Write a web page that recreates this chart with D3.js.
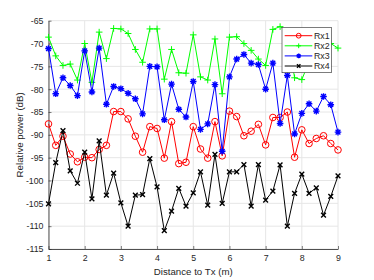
<!DOCTYPE html>
<html>
<head>
<meta charset="utf-8">
<script src="https://cdn.jsdelivr.net/npm/d3@7"></script>
<style>
  body { margin: 0; background: #fff; }
  text { font-family: "Liberation Sans", Arial, sans-serif; }
</style>
</head>
<body>
<div id="dataviz"></div>
<script>
// distances (m)
var distance = [1.0, 1.2, 1.4, 1.6, 1.8, 2.0, 2.2, 2.4, 2.6, 2.8, 3.0, 3.2, 3.4, 3.6, 3.8, 4.0, 4.2, 4.4, 4.6, 4.8,
                5.0, 5.2, 5.4, 5.6, 5.8, 6.0, 6.2, 6.4, 6.6, 6.8, 7.0, 7.2, 7.4, 7.6, 7.8, 8.0, 8.2, 8.4, 8.6, 8.8, 9.0];

var rx1 = [-87.6, -92.3, -90.3, -94.2, -95.9, -94.9, -95.0, -93.2, -92.3, -84.9, -84.9, -86.5, -90.3, -93.8, -88.2, -88.6, -95.1, -87.1, -96.3, -96.0,
           -88.2, -93.1, -95.1, -87.1, -94.6, -84.8, -86.0, -90.2, -89.2, -87.7, -92.2, -86.2, -86.2, -85.0, -94.9, -88.9, -91.9, -90.8, -90.2, -91.9, -93.3];
var rx2 = [-68.6, -72.7, -74.8, -74.5, -78.0, -70.0, -78.5, -67.5, -73.3, -66.7, -66.8, -67.8, -71.3, -74.1, -66.8, -66.8, -77.8, -71.3, -76.4, -76.5,
           -68.1, -77.3, -78.0, -69.0, -81.0, -68.6, -68.5, -70.0, -71.5, -73.4, -74.8, -66.9, -66.3, -67.5, -77.5, -77.9, -74.0, -72.0, -70.0, -70.0, -71.0];
var rx3 = [-71.1, -81.0, -77.5, -79.2, -81.4, -71.6, -80.6, -71.0, -83.3, -79.4, -79.9, -80.9, -82.1, -85.4, -75.0, -75.1, -86.7, -78.9, -84.4, -86.1,
           -78.3, -88.8, -87.6, -79.0, -93.6, -77.3, -73.4, -72.4, -74.3, -74.6, -80.0, -74.3, -87.5, -77.0, -89.8, -85.3, -83.2, -84.8, -81.6, -83.4, -89.4];
var rx4 = [-105.1, -96.1, -89.1, -97.9, -100.6, -93.8, -104.0, -91.3, -103.2, -98.4, -104.9, -110.0, -103.2, -103.1, -95.2, -101.4, -111.0, -106.7, -101.7, -105.6,
           -102.7, -98.1, -105.4, -94.3, -105.0, -98.1, -98.1, -96.5, -105.6, -96.5, -104.3, -102.3, -96.6, -110.0, -102.8, -98.6, -102.8, -101.6, -107.6, -103.5, -99.0];

var seriesNames = ["Rx1", "Rx2", "Rx3", "Rx4"];
var xTicks = [1, 2, 3, 4, 5, 6, 7, 8, 9];
var yTicks = [-65, -70, -75, -80, -85, -90, -95, -100, -105, -110, -115];

var W = 374, H = 280;
var margin = {top: 20.7, right: 36, bottom: 31, left: 48.5};
var width = W - margin.left - margin.right;
var height = H - margin.top - margin.bottom;
var axisColor = "#262626";

var series = [
  {name: seriesNames[0], values: rx1, color: "#ff0000", marker: "o"},
  {name: seriesNames[1], values: rx2, color: "#00ff00", marker: "+"},
  {name: seriesNames[2], values: rx3, color: "#0000ff", marker: "*"},
  {name: seriesNames[3], values: rx4, color: "#000000", marker: "x"}
];

var svg = d3.select("#dataviz")
  .append("svg")
  .attr("width", W)
  .attr("height", H)
  .append("g")
  .attr("transform", "translate(" + margin.left + "," + margin.top + ")");

var xScale = d3.scaleLinear().domain([1, 9]).range([0, width]);
var yScale = d3.scaleLinear().domain([-115, -65]).range([height, 0]);

// grid
svg.append("g")
  .selectAll("line.vgrid")
  .data(xTicks)
  .enter()
  .append("line")
  .attr("x1", (d) => xScale(d))
  .attr("x2", (d) => xScale(d))
  .attr("y1", 0)
  .attr("y2", height)
  .style("stroke", "#e6e6e6")
  .style("stroke-width", 1);

svg.append("g")
  .selectAll("line.hgrid")
  .data(yTicks)
  .enter()
  .append("line")
  .attr("x1", 0)
  .attr("x2", width)
  .attr("y1", (d) => yScale(d))
  .attr("y2", (d) => yScale(d))
  .style("stroke", "#e6e6e6")
  .style("stroke-width", 1);

// axes (ticks inside, like matlab)
var xAxis = d3.axisBottom(xScale)
  .tickValues(xTicks)
  .tickFormat(d3.format("d"))
  .tickSizeInner(-3)
  .tickSizeOuter(0)
  .tickPadding(6);

var yAxis = d3.axisLeft(yScale)
  .tickValues(yTicks)
  .tickFormat((d) => d)
  .tickSizeInner(-3)
  .tickSizeOuter(0)
  .tickPadding(5);

var gx = svg.append("g")
  .attr("transform", "translate(0," + height + ")")
  .call(xAxis);
var gy = svg.append("g")
  .call(yAxis);

[gx, gy].forEach(function (g) {
  g.selectAll("path").style("stroke", axisColor).style("stroke-width", 0.8);
  g.selectAll("line").style("stroke", axisColor).style("stroke-width", 0.6);
  g.selectAll("text")
    .style("fill", axisColor)
    .style("font-size", "8.8px")
    .style("font-family", "'Liberation Sans', Arial, sans-serif");
});

// marker shapes, k = size
function markerPath(type, k) {
  var a = k * 0.72;
  if (type == "+") return "M" + (-k) + ",0H" + k + "M0," + (-k) + "V" + k;
  if (type == "x") return "M" + (-a) + "," + (-a) + "L" + a + "," + a + "M" + (-a) + "," + a + "L" + a + "," + (-a);
  return "M" + (-k) + ",0H" + k + "M0," + (-k) + "V" + k +
         "M" + (-a) + "," + (-a) + "L" + a + "," + a + "M" + (-a) + "," + a + "L" + a + "," + (-a);
}

function drawMarker(sel, s, k) {
  if (s.marker == "o") {
    sel.append("circle")
      .attr("r", k)
      .style("fill", "none")
      .style("stroke", s.color)
      .style("stroke-width", 1);
  } else {
    sel.append("path")
      .attr("d", markerPath(s.marker, k))
      .style("fill", "none")
      .style("stroke", s.color)
      .style("stroke-width", s.marker == "+" ? 1 : 1.4);
  }
}

var line = d3.line()
  .x((d) => xScale(d[0]))
  .y((d) => yScale(d[1]));

series.forEach(function (s) {
  var pts = distance.map((d, i) => [d, s.values[i]]);
  svg.append("path")
    .datum(pts)
    .attr("d", line)
    .style("fill", "none")
    .style("stroke", s.color)
    .style("stroke-width", 1);

  svg.append("g")
    .selectAll("g")
    .data(pts)
    .enter()
    .append("g")
    .attr("transform", (d) => "translate(" + xScale(d[0]) + "," + yScale(d[1]) + ")")
    .each(function () { drawMarker(d3.select(this), s, 3.3); });
});

// axis labels
svg.append("text")
  .attr("x", width / 2)
  .attr("y", height + 26)
  .attr("text-anchor", "middle")
  .style("font-size", "9.7px")
  .style("fill", axisColor)
  .text("Distance to Tx (m)");

svg.append("text")
  .attr("transform", "translate(" + (-26) + "," + (height / 2) + ") rotate(-90)")
  .attr("text-anchor", "middle")
  .style("font-size", "9.7px")
  .style("fill", axisColor)
  .text("Relative power (dB)");

// legend
var legX = 282 - margin.left, legY = 27.3 - margin.top;
var legend = svg.append("g")
  .attr("transform", "translate(" + legX + "," + legY + ")");

legend.append("rect")
  .attr("width", 49.3)
  .attr("height", 45.4)
  .style("fill", "#fff")
  .style("stroke", axisColor)
  .style("stroke-width", 0.6);

var rows = legend.selectAll("g.row")
  .data(series)
  .enter()
  .append("g")
  .attr("transform", (d, i) => "translate(0," + (8.4 + i * 10.1) + ")");

rows.append("line")
  .attr("x1", 2.7)
  .attr("x2", 30.3)
  .attr("y1", 0)
  .attr("y2", 0)
  .style("stroke", (d) => d.color)
  .style("stroke-width", 1);

rows.append("g")
  .attr("transform", "translate(16.7,0)")
  .each(function (d) { drawMarker(d3.select(this), d, 2.4); });

rows.append("text")
  .attr("x", 32)
  .attr("y", 3.1)
  .style("font-size", "8.8px")
  .style("fill", axisColor)
  .text((d) => d.name);
</script>
</body>
</html>
